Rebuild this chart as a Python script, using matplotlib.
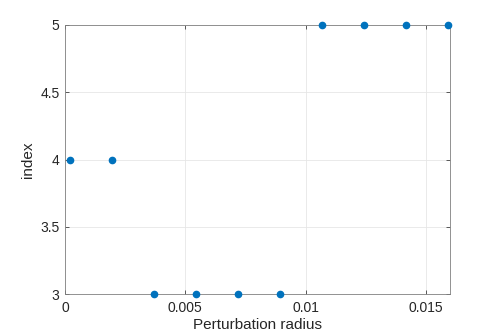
import matplotlib
matplotlib.use('Agg')
import matplotlib.pyplot as plt

# data
radius = [0.0002, 0.00195, 0.0037, 0.00544, 0.00719, 0.00893,
          0.01068, 0.01242, 0.01417, 0.01592]
index = [4, 4, 3, 3, 3, 3, 5, 5, 5, 5]

xticks = [0, 0.005, 0.01, 0.015]
xticklabels = ['0', '0.005', '0.01', '0.015']
yticks = [3, 3.5, 4, 4.5, 5]
yticklabels = ['3', '3.5', '4', '4.5', '5']

plt.rcParams['font.family'] = ['Liberation Sans', 'DejaVu Sans']

fig = plt.figure(figsize=(4.98, 3.35), dpi=100)
ax = fig.add_axes([65 / 498, 1 - 294 / 335, 385 / 498, 269 / 335])

ax.plot(radius, index, 'o', color='#0072BD', markersize=4.5, clip_on=False, zorder=5)

ax.set_xlim(0, 0.016)
ax.set_ylim(3, 5)
ax.set_xticks(xticks)
ax.set_xticklabels(xticklabels)
ax.set_yticks(yticks)
ax.set_yticklabels(yticklabels)

ax.grid(True, color='#e6e6e6', linewidth=0.6)
ax.set_axisbelow(True)
for s in ax.spines.values():
    s.set_color('#808080')
    s.set_linewidth(0.6)
ax.tick_params(direction='in', top=True, right=True, length=3, width=0.6,
               color='#404040', labelcolor='#262626', labelsize=10)
ax.tick_params(axis='x', pad=5)
ax.tick_params(axis='y', pad=4)

ax.set_xlabel('Perturbation radius', fontsize=11, color='#262626', labelpad=2)
ax.set_ylabel('index', fontsize=11, color='#262626', labelpad=4)

fig.savefig('out.png', dpi=100)
